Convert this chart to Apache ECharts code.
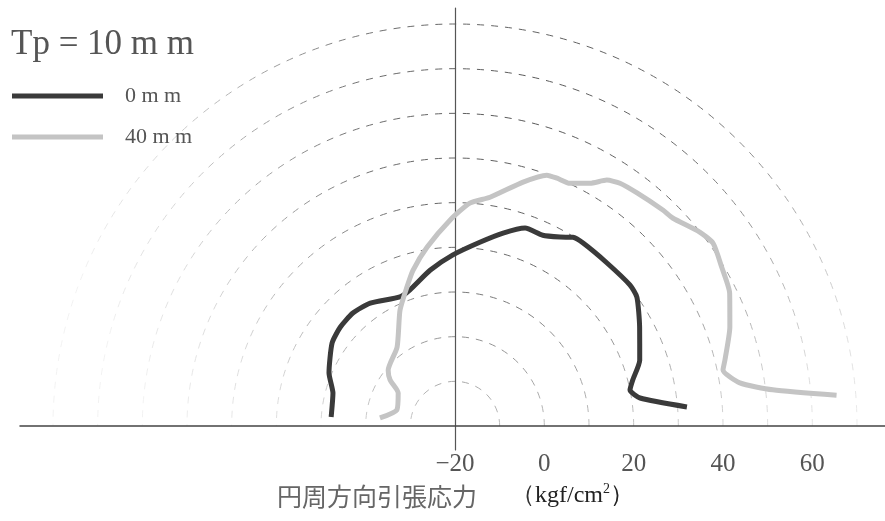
<!DOCTYPE html>
<html><head><meta charset="utf-8">
<script src="https://cdn.jsdelivr.net/npm/echarts@6/dist/echarts.min.js"></script>
<style>html,body{margin:0;padding:0;background:#fff}#c{width:885px;height:521px}</style>
</head><body><div id="c"></div>
<script>
// ---- data ----
const radiusTicks = [-20, 0, 20, 40, 60];
const seriesNames = ['0 m m', '40 m m'];
const titleText = 'Tp = 10 m m';
const axisTitleJa = '円周方向引張応力';
const axisUnit = 'kgf/cm';

// 0 mm curve: angle (deg, counterclockwise from right) and stress value
const angles0 = [4.7, 8.6, 11.6, 14.5, 19.6, 28.2, 35.3, 38.9, 47.0, 55.0, 58.0, 60.9, 65.3, 70.5, 76.0, 82.3, 90.7, 99.1, 108.3, 113.1, 124.6, 132.1, 139.3, 146.0, 157.2, 164.9, 175.8];
const values0 = [32.1, 21.9, 20.0, 21.1, 23.9, 26.9, 29.9, 30.3, 29.9, 30.0, 29.8, 28.4, 27.0, 27.0, 24.5, 21.5, 18.3, 15.3, 12.1, 11.4, 13.4, 14.1, 13.9, 13.2, 10.6, 8.3, 7.8];

// 40 mm curve
const angles40 = [4.6, 6.5, 8.6, 11.8, 13.7, 19.8, 25.8, 30.8, 35.3, 38.4, 43.7, 46.1, 52.0, 55.8, 58.3, 60.9, 64.7, 67.6, 69.9, 74.4, 81.3, 86.2, 91.4, 98.9, 105.1, 109.1, 115.4, 126.3, 140.1, 144.7, 149.9, 164.6, 173.9];
const values40 = [65.7, 51.6, 44.5, 41.3, 42.2, 45.4, 48.3, 49.5, 50.8, 49.9, 47.4, 47.1, 46.2, 45.7, 44.7, 42.2, 40.1, 40.0, 39.8, 36.7, 31.8, 30.0, 26.1, 20.5, 16.1, 12.9, 8.7, 1.9, -0.5, -2.2, -5.3, -6.5, -3.1];

// ---- layout ----
const CX = 455, CY = 426, R = 402;
const chart = echarts.init(document.getElementById('c'));
const gridColor = new echarts.graphic.RadialGradient(530, 110, 480, [
  {offset: 0, color: '#555'},
  {offset: 0.35, color: '#6e6e6e'},
  {offset: 0.58, color: '#a8a8a8'},
  {offset: 0.78, color: '#dadada'},
  {offset: 1, color: '#f2f2f2'}
], true);

const hideAxis = {
  axisTick: {show: false}, axisLabel: {show: false}, splitLine: {show: false}
};

const option = {
  animation: false,
  backgroundColor: '#fff',
  title: [
    {text: titleText, left: 11, top: 27, padding: 0,
     textStyle: {fontFamily: 'Liberation Serif', fontSize: 35, lineHeight: 35, fontWeight: 'normal', color: '#555'}},
    {text: '{a|' + axisTitleJa + '}{p|（}{b|' + axisUnit + '}{s|2}{b|）}', left: 277, top: 481, padding: 0,
     textStyle: {fontWeight: 'normal', rich: {
       a: {fontFamily: 'Noto Sans CJK JP', fontSize: 25, fontWeight: 'normal', color: '#666', lineHeight: 30},
       p: {fontFamily: 'Liberation Serif', fontSize: 24, fontWeight: 'normal', color: '#333', padding: [0, 0, 0, 34], lineHeight: 30},
       b: {fontFamily: 'Liberation Serif', fontSize: 24, fontWeight: 'normal', color: '#222', lineHeight: 30},
       s: {fontFamily: 'Liberation Serif', fontSize: 14, fontWeight: 'normal', color: '#222', padding: [0, 0, 14, 0], lineHeight: 30}
     }}}
  ],
  legend: {
    orient: 'vertical', left: 12, top: 85, padding: 0, itemGap: 19,
    itemWidth: 91, itemHeight: 5, icon: 'rect',
    textStyle: {fontFamily: 'Liberation Serif', fontSize: 22, color: '#555', padding: [0, 0, 0, 17]},
    data: seriesNames
  },
  grid: {left: 20, right: 0, top: 8, bottom: 71},
  xAxis: Object.assign({type: 'value', min: -435, max: 430,
    axisLine: {show: true, onZero: true, lineStyle: {color: '#444', width: 1.5}}}, hideAxis),
  yAxis: Object.assign({type: 'value', min: -24, max: 418,
    axisLine: {show: true, onZero: true, lineStyle: {color: '#555', width: 1.2}}}, hideAxis),
  polar: {center: [CX, CY], radius: R},
  angleAxis: {type: 'value', min: 0, max: 180, startAngle: 0, endAngle: 180, clockwise: false,
    axisLine: {show: false}, axisTick: {show: false}, axisLabel: {show: false}, splitLine: {show: false}},
  radiusAxis: {type: 'value', min: -20, max: 70, interval: 10,
    axisLine: {show: false}, axisTick: {show: false},
    axisLabel: {show: true, margin: -38, verticalAlign: 'middle', fontFamily: 'Liberation Serif', fontSize: 25, color: '#555',
      formatter: v => radiusTicks.indexOf(v) >= 0 ? (v < 0 ? '−' + Math.abs(v) : String(v)) : ''},
    splitLine: {show: true, lineStyle: {type: [7, 7], color: gridColor, width: 1}}},
  series: [
    {name: seriesNames[0], type: 'line', coordinateSystem: 'polar', showSymbol: false, smooth: 0.2,
     lineStyle: {color: '#3a3a3a', width: 5}, itemStyle: {color: '#3a3a3a'},
     data: values0.map((v, i) => [v, angles0[i]])},
    {name: seriesNames[1], type: 'line', coordinateSystem: 'polar', showSymbol: false, smooth: 0.2,
     lineStyle: {color: '#c4c4c4', width: 5}, itemStyle: {color: '#c4c4c4'},
     data: values40.map((v, i) => [v, angles40[i]])}
  ]
};
chart.setOption(option);
</script>
</body></html>
